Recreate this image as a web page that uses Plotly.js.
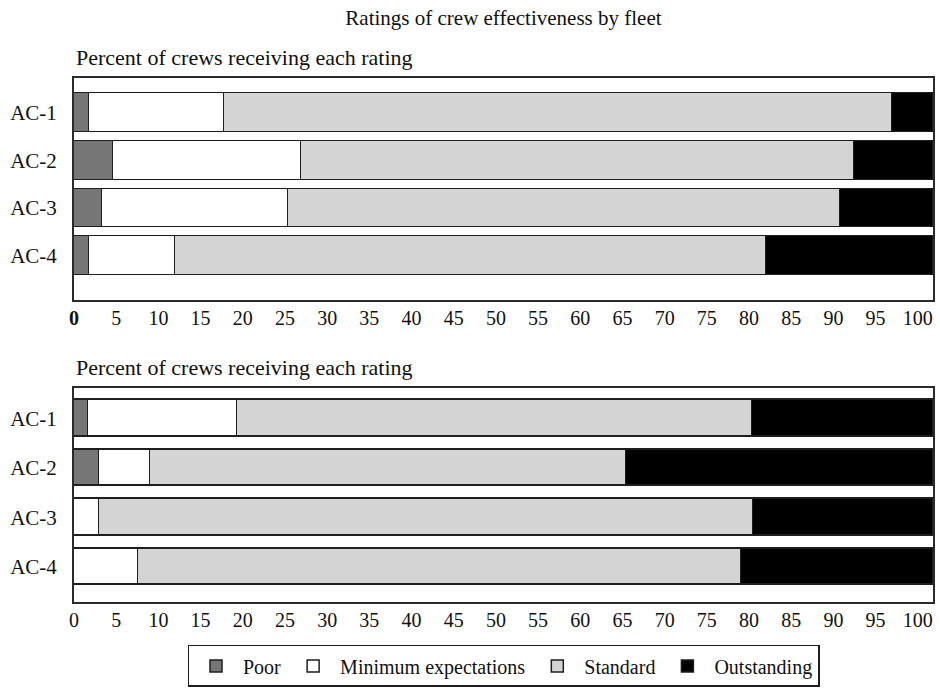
<!DOCTYPE html>
<html>
<head>
<meta charset="utf-8">
<script src="https://cdn.plot.ly/plotly-3.0.1.min.js"></script>
<style>html,body{margin:0;padding:0;background:#fff;}#chart{width:940px;height:694px;}</style>
</head>
<body>
<div id="chart"></div>
<script>
const fleets = ["AC-1", "AC-2", "AC-3", "AC-4"];
const ratings = ["Poor", "Minimum expectations", "Standard", "Outstanding"];
const ratingColors = ["#767676", "#ffffff", "#d4d4d4", "#000000"];

// Upper panel: percent of crews receiving each rating
const topPoor = [1.7, 4.5, 3.3, 1.7];
const topMinimum = [15.8, 21.9, 21.6, 10.1];
const topStandard = [77.7, 64.4, 64.3, 68.8];
const topOutstanding = [4.8, 9.2, 10.8, 19.4];

// Lower panel
const botPoor = [1.6, 2.9, 0, 0];
const botMinimum = [17.4, 6.0, 2.9, 7.4];
const botStandard = [59.9, 55.4, 76.1, 70.3];
const botOutstanding = [21.1, 35.7, 21.0, 22.3];

const tickValues = [0,5,10,15,20,25,30,35,40,45,50,55,60,65,70,75,80,85,90,95,100];
const topTickText = tickValues.map(v => v === 0 ? "<b>0</b>" : String(v));
const botTickText = tickValues.map(String);

const FONT = "Liberation Serif, Times New Roman, serif";
const topSeries = [topPoor, topMinimum, topStandard, topOutstanding];
const botSeries = [botPoor, botMinimum, botStandard, botOutstanding];

const traces = [];
topSeries.forEach((vals, i) => {
  traces.push({
    type: "bar", orientation: "h", x: vals, y: fleets, name: ratings[i],
    xaxis: "x", yaxis: "y", width: 0.81, legendgroup: ratings[i],
    marker: {color: ratingColors[i], line: {color: "#1e1e1e", width: 1.5}},
    showlegend: true, hoverinfo: "x+name"
  });
});
botSeries.forEach((vals, i) => {
  traces.push({
    type: "bar", orientation: "h", x: vals, y: fleets, name: ratings[i],
    xaxis: "x2", yaxis: "y2", width: 0.74, legendgroup: ratings[i],
    marker: {color: ratingColors[i], line: {color: "#1e1e1e", width: 1.5}},
    showlegend: false, hoverinfo: "x+name"
  });
});
// empty carriers so the tick-label axes are drawn
traces.push({type: "scatter", x: [], y: [], xaxis: "x3", yaxis: "y", showlegend: false, hoverinfo: "skip"});
traces.push({type: "scatter", x: [], y: [], xaxis: "x4", yaxis: "y2", showlegend: false, hoverinfo: "skip"});

const boxAxis = {
  range: [0, 100], showgrid: false, zeroline: false, showticklabels: false,
  ticks: "", showline: true, mirror: true, linecolor: "#2a2a2a", linewidth: 2, fixedrange: true
};
const tickAxis = {
  range: [0, 101.8], showgrid: false, zeroline: false, showline: false,
  tickmode: "array", tickvals: tickValues,
  ticks: "", tickfont: {family: FONT, size: 20, color: "#111"}, ticklabelstandoff: 4, fixedrange: true
};
const catAxis = {
  type: "category", categoryorder: "array", categoryarray: fleets,
  showgrid: false, zeroline: false, ticks: "", showline: true, mirror: true,
  linecolor: "#2a2a2a", linewidth: 2,
  tickfont: {family: FONT, size: 21, color: "#111"}, ticklabelstandoff: 11, fixedrange: true
};

const layout = {
  width: 940, height: 694,
  margin: {l: 74, r: 7, t: 78, b: 85},
  paper_bgcolor: "#fff", plot_bgcolor: "#fff",
  barmode: "stack", bargap: 0,
  font: {family: FONT, size: 20, color: "#111"},
  title: {text: "Ratings of crew effectiveness by fleet", x: 0.5356, xanchor: "center",
          y: 1 - 18/694, yanchor: "middle", yref: "container",
          font: {family: FONT, size: 21, color: "#111"}},
  xaxis: Object.assign({}, boxAxis, {domain: [0, 1], anchor: "y"}),
  yaxis: Object.assign({}, catAxis, {domain: [0.576, 1], anchor: "x", range: [3.93, -0.72]}),
  xaxis2: Object.assign({}, boxAxis, {domain: [0, 1], anchor: "y2"}),
  yaxis2: Object.assign({}, catAxis, {domain: [0, 0.4087], anchor: "x2", range: [3.715, -0.62]}),
  xaxis3: Object.assign({}, tickAxis, {overlaying: "x", anchor: "y", side: "bottom", ticktext: topTickText}),
  xaxis4: Object.assign({}, tickAxis, {overlaying: "x2", anchor: "y2", side: "bottom", ticktext: botTickText}),
  legend: {
    orientation: "h", x: 0.5, xanchor: "center", y: -0.082, yanchor: "top",
    bordercolor: "#1e1e1e", borderwidth: 1.5, bgcolor: "#fff",
    font: {family: FONT, size: 20, color: "#111"}, traceorder: "normal",
    itemwidth: 44
  },
  annotations: [
    {text: "Percent of crews receiving each rating", xref: "paper", yref: "paper",
     x: 0, xanchor: "left", y: 1 + 21/531, yanchor: "middle", showarrow: false,
     font: {family: FONT, size: 22, color: "#111"}},
    {text: "Percent of crews receiving each rating", xref: "paper", yref: "paper",
     x: 0, xanchor: "left", y: 0.4087 + 21/531, yanchor: "middle", showarrow: false,
     font: {family: FONT, size: 22, color: "#111"}}
  ],
  showlegend: true
};

Plotly.newPlot("chart", traces, layout, {displayModeBar: false});
</script>
</body>
</html>
